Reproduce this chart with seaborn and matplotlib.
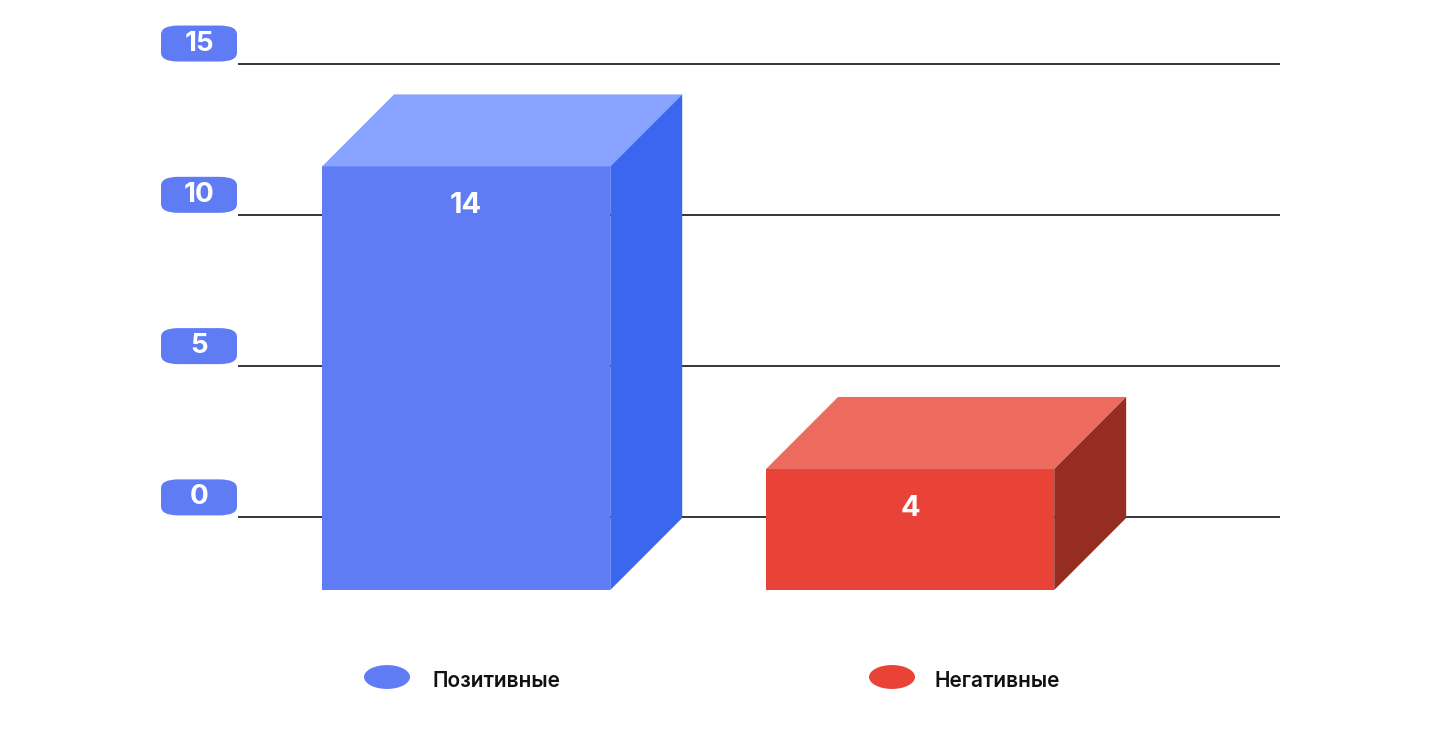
import matplotlib
matplotlib.use("Agg")
import matplotlib.pyplot as plt
import seaborn as sns
import pandas as pd
from matplotlib.patches import Polygon, FancyBboxPatch, Circle

categories = ["Позитивные", "Негативные"]
values = [14, 4]
ticks = [0, 5, 10, 15]
front_colors = ["#5f7cf5", "#e94236"]
top_colors = ["#87a3ff", "#ec6a5e"]
side_colors = ["#3a66f0", "#962d22"]

sns.set_theme(style="white")
plt.rcParams['font.family'] = ['Inter', 'DejaVu Sans']

W, H = 1440, 748
fig = plt.figure(figsize=(14.4, 7.48), dpi=100)
ax = fig.add_axes([238/W, (H-590)/H, 1042/W, 590/H])
base = -2.4
df = pd.DataFrame({"cat": categories, "val": values})
sns.barplot(data=df, x="cat", y="val", hue="cat", palette=front_colors,
            width=0.649, bottom=base, ax=ax, legend=False, zorder=3, saturation=1)
ax.set_xlim(-0.514, 1.833)
ax.set_ylim(base, 17.1)
for t in ticks:
    ax.axhline(t, color="black", lw=1.1, zorder=1)
for s in ax.spines.values():
    s.set_visible(False)
ax.set_xticks([]); ax.set_yticks([]); ax.set_xlabel(""); ax.set_ylabel("")

dx, dy = 0.162, 2.38
for p, tc, sc, v in zip(ax.patches, top_colors, side_colors, values):
    x0 = p.get_x(); w = p.get_width(); y0 = p.get_y(); y1 = y0 + p.get_height()
    p.set_edgecolor("none")
    ax.add_patch(Polygon([(x0, y1), (x0+w, y1), (x0+w+dx, y1+dy), (x0+dx, y1+dy)],
                         closed=True, fc=tc, ec="none", zorder=3, clip_on=False))
    ax.add_patch(Polygon([(x0+w, y0), (x0+w+dx, y0+dy), (x0+w+dx, y1+dy), (x0+w, y1)],
                         closed=True, fc=sc, ec="none", zorder=3, clip_on=False))
    ax.text(x0+w/2, y1-1.3, str(v), color="white", fontsize=21, fontweight="bold",
            ha="center", va="center", zorder=4)

fig.canvas.draw()
for t in ticks:
    ypx = ax.transData.transform((0, t))[1] + 20
    fig.patches.append(FancyBboxPatch(((161)/W, (ypx-18)/H), 76/W, 36/H,
        boxstyle="round,pad=0,rounding_size=0.012", transform=fig.transFigure,
        fc="#5f7cf5", ec="none", figure=fig))
    fig.text(199/W, ypx/H, str(t), color="white", fontsize=20, fontweight="bold",
             ha="center", va="center")

for cx, tx, c, lab in zip([387, 892], [432, 935], front_colors, categories):
    fig.patches.append(Circle((cx/W, (H-677)/H), 23/W, transform=fig.transFigure,
                              fc=c, ec="none", figure=fig))
    fig.text(tx/W, (H-681)/H, lab, fontsize=15, fontweight="semibold",
             color="#111111", ha="left", va="center")

fig.savefig("out.png", dpi=100)
